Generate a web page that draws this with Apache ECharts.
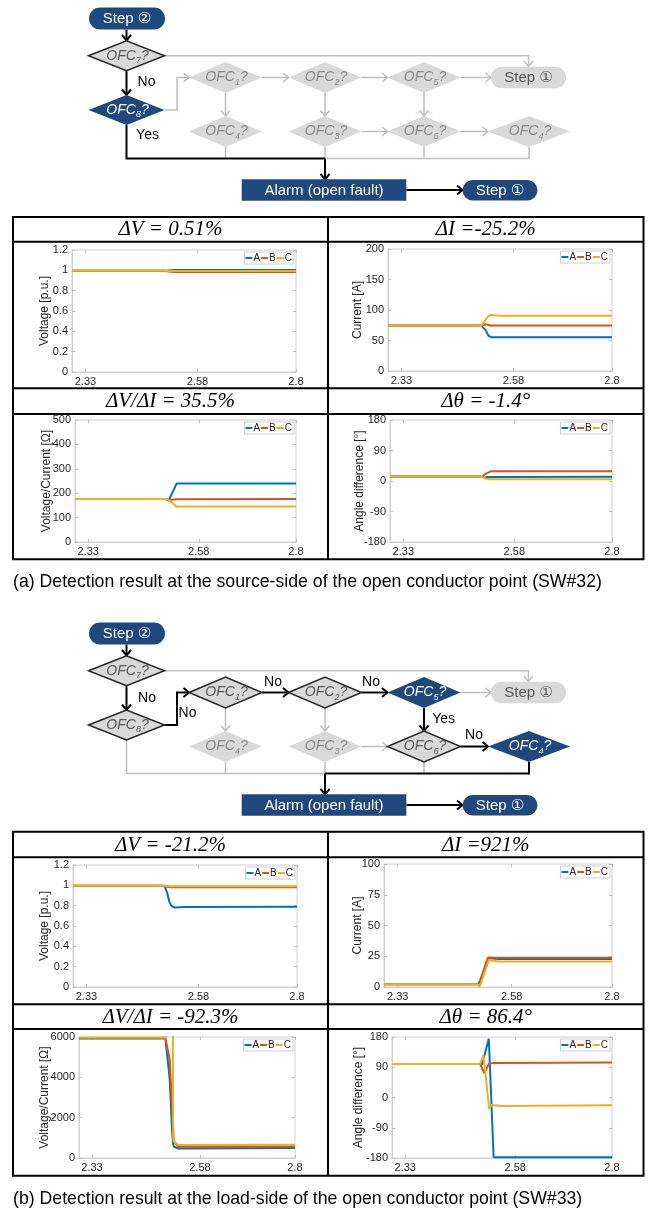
<!DOCTYPE html>
<html><head><meta charset="utf-8">
<script src="https://cdn.jsdelivr.net/npm/echarts@6/dist/echarts.min.js"></script>
<style>html,body{margin:0;padding:0;background:#fff}#c{width:651px;height:1210px}</style>
</head><body><div id="c"></div>
<script>
// ---------------- DATA ----------------
const xTicks = [2.33, 2.58, 2.8];
const phaseNames = ['A', 'B', 'C'];

// (a) source side (SW#32)
const srcV_A = [[2.3,0.995],[2.505,0.995],[2.512,0.997],[2.52,1.001],[2.53,1.003],[2.8,1.003]];
const srcV_B = [[2.3,0.995],[2.505,0.995],[2.512,0.992],[2.52,0.986],[2.53,0.984],[2.8,0.984]];
const srcV_C = [[2.3,0.995],[2.505,0.995],[2.515,0.994],[2.53,0.993],[2.8,0.993]];

const srcI_A = [[2.3,74],[2.508,74],[2.512,76],[2.518,67],[2.524,58],[2.53,55.5],[2.8,55.5]];
const srcI_B = [[2.3,74.5],[2.508,74.5],[2.512,77],[2.518,76.5],[2.524,75.5],[2.53,74.5],[2.8,74.5]];
const srcI_C = [[2.3,74],[2.508,74],[2.512,76],[2.518,84],[2.524,90],[2.53,92],[2.55,90.5],[2.8,90.5]];

const srcZ_A = [[2.3,176],[2.505,176],[2.512,170],[2.53,240],[2.8,240]];
const srcZ_B = [[2.3,176],[2.505,176],[2.512,172],[2.53,175],[2.8,176]];
const srcZ_C = [[2.3,176],[2.505,176],[2.512,172],[2.53,145],[2.8,145]];

const srcTh_A = [[2.3,13],[2.505,13],[2.512,10],[2.52,12],[2.8,12.5]];
const srcTh_B = [[2.3,13],[2.508,13],[2.514,20],[2.528,29],[2.8,29]];
const srcTh_C = [[2.3,13],[2.505,13],[2.515,7],[2.525,5.5],[2.8,5.5]];

// (b) load side (SW#33)
const loadV_A = [[2.3,0.995],[2.5,0.995],[2.505,0.985],[2.51,0.93],[2.515,0.84],[2.52,0.795],[2.527,0.782],[2.55,0.788],[2.8,0.79]];
const loadV_B = [[2.3,0.995],[2.5,0.995],[2.51,0.985],[2.52,0.98],[2.8,0.98]];
const loadV_C = [[2.3,0.995],[2.5,0.995],[2.52,0.991],[2.8,0.991]];

const loadI_A = [[2.3,2.2],[2.505,2.2],[2.51,4.5],[2.528,23.5],[2.55,22.8],[2.8,22.8]];
const loadI_B = [[2.3,2.2],[2.505,2.2],[2.51,2.5],[2.528,24],[2.55,23.7],[2.8,23.7]];
const loadI_C = [[2.3,2.2],[2.505,2.2],[2.51,0.4],[2.53,22],[2.55,20.8],[2.8,20.8]];

const loadZ_A = [[2.3,5930],[2.5,5930],[2.51,3900],[2.5155,1300],[2.518,680],[2.52,560],[2.53,470],[2.8,490]];
const loadZ_B = [[2.3,5955],[2.5,5955],[2.51,4876],[2.5195,830],[2.53,560],[2.8,575]];
const loadZ_C = [[2.3,5980],[2.5,5980],[2.51,20000],[2.5155,20000],[2.518,950],[2.52,800],[2.53,650],[2.8,660]];

const loadTh_A = [[2.3,100],[2.505,100],[2.52,175],[2.531,-178],[2.8,-178]];
const loadTh_B = [[2.3,100],[2.5,100],[2.51,72],[2.52,100],[2.53,103],[2.8,104]];
const loadTh_C = [[2.3,100],[2.5,100],[2.508,125],[2.521,-35],[2.526,-22],[2.55,-25],[2.8,-23]];

// y-axis ranges [min, max, interval] and names
const yRanges = [[0,1.2,0.2],[0,200,50],[0,500,100],[-180,180,90],[0,1.2,0.2],[0,100,25],[0,6000,2000],[-180,180,90]];
const yNames = ['Voltage [p.u.]','Current [A]','Voltage/Current [Ω]','Angle difference [°]',
                'Voltage [p.u.]','Current [A]','Voltage/Current [Ω]','Angle difference [°]'];
const panelTitles = ['ΔV = 0.51%','ΔI =-25.2%','ΔV/ΔI = 35.5%','Δθ = -1.4°',
                     'ΔV = -21.2%','ΔI =921%','ΔV/ΔI = -92.3%','Δθ = 86.4°'];
const captions = ['(a) Detection result at the source-side of the open conductor point (SW#32)',
                  '(b) Detection result at the load-side of the open conductor point (SW#33)'];
const panelData = [
  [srcV_A, srcV_B, srcV_C],[srcI_A, srcI_B, srcI_C],[srcZ_A, srcZ_B, srcZ_C],[srcTh_A, srcTh_B, srcTh_C],
  [loadV_A, loadV_B, loadV_C],[loadI_A, loadI_B, loadI_C],[loadZ_A, loadZ_B, loadZ_C],[loadTh_A, loadTh_B, loadTh_C]
];

// ---------------- LAYOUT / STYLE ----------------
const FF = "'Liberation Sans', Arial, 'DejaVu Sans', sans-serif";
const SERIF = "'Liberation Serif', 'Times New Roman', serif";
const COLORS = ['#0072bd', '#d95319', '#edb120'];
const NAVY = '#1f497d';
const FILL = '#d9d9d9';
const GRAYLN = '#bfbfbf';
const BLACK = '#000000';
const AX = '#d0d0d0';

const gridPos = [
  {left:72, top:250, width:224, height:122},
  {left:388, top:249, width:224, height:122},
  {left:75, top:420, width:221, height:122},
  {left:390, top:420, width:222, height:122},
  {left:73, top:865, width:224, height:122},
  {left:384, top:864, width:228, height:123},
  {left:79, top:1037, width:216, height:121},
  {left:392, top:1037, width:220, height:121}
];
const nameGaps = [21, 24, 22, 24, 22, 20, 28, 27];

const grid = [], xAxis = [], yAxis = [], series = [], legend = [];
gridPos.forEach((g, i) => {
  grid.push(Object.assign({show:true, borderColor:AX, borderWidth:1, backgroundColor:'#fff', containLabel:false, outerBoundsMode:'none'}, g));
  const tickStyle = {show:true, inside:true, length:3, lineStyle:{color:'#bdbdbd', width:1}};
  xAxis.push({type:'value', gridIndex:i, min:2.3, max:2.8, position:'bottom',
    axisLine:{show:true, onZero:false, lineStyle:{color:AX}},
    axisTick:Object.assign({customValues:xTicks}, tickStyle),
    axisLabel:{customValues:xTicks, fontSize:11, color:'#262626', margin:4, fontFamily:FF},
    splitLine:{show:false}});
  xAxis.push({type:'value', gridIndex:i, min:2.3, max:2.8, position:'top',
    axisLine:{show:false, onZero:false}, axisTick:Object.assign({customValues:xTicks}, tickStyle),
    axisLabel:{show:false}, splitLine:{show:false}});
  const r = yRanges[i];
  yAxis.push({type:'value', gridIndex:i, min:r[0], max:r[1], interval:r[2], position:'left',
    name:yNames[i], nameLocation:'middle', nameGap:nameGaps[i], nameMoveOverlap:false,
    nameTextStyle:{fontSize:12, color:'#262626', fontFamily:FF},
    axisLine:{show:true, onZero:false, lineStyle:{color:AX}}, axisTick:tickStyle,
    axisLabel:{fontSize:11, color:'#262626', margin:4, fontFamily:FF, formatter: v => String(+v.toFixed(4))},
    splitLine:{show:false}});
  yAxis.push({type:'value', gridIndex:i, min:r[0], max:r[1], interval:r[2], position:'right',
    axisLine:{show:false, onZero:false}, axisTick:tickStyle, axisLabel:{show:false}, splitLine:{show:false}});
  panelData[i].forEach((d, k) => {
    series.push({type:'line', name:phaseNames[k], xAxisIndex:2*i, yAxisIndex:2*i, data:d,
      showSymbol:false, symbol:'none', lineStyle:{width:2, color:COLORS[k]}, itemStyle:{color:COLORS[k]},
      clip:true, z:2+k, silent:true, animation:false});
  });
  legend.push({data:phaseNames, right:651-(g.left+g.width)+2, top:g.top+2, orient:'horizontal',
    icon:'rect', itemWidth:7, itemHeight:2, itemGap:1, padding:[1,2,1,1],
    borderColor:'#d0d0d0', borderWidth:1, backgroundColor:'#fff', selectedMode:false,
    textStyle:{fontSize:10, color:'#262626', fontFamily:FF, padding:[0,0,0,-4]}});
});

// ---------------- GRAPHIC (flowcharts, table, captions) ----------------
const els = [];
function pl(points, color, lw){ els.push({type:'polyline', shape:{points}, style:{stroke:color, lineWidth:lw, fill:'none'}, z:5, silent:true}); }
function head(x, y, dir, color, lw){
  const a = 4.5, b = 5.5; let p;
  if (dir === 'r') p = [[x-b,y-a],[x,y],[x-b,y+a]];
  else p = [[x-a,y-b],[x,y],[x+a,y-b]];
  pl(p, color, lw);
}
function arrow(points, color, lw, dir){ pl(points, color, lw); const e = points[points.length-1]; head(e[0], e[1], dir, color, lw); }
function txt(x, y, text, o){
  els.push({type:'text', x, y, z:20, silent:true,
    style:Object.assign({text, fill:'#000', fontSize:14, fontFamily:FF, align:'center', verticalAlign:'middle',
      textAlign:'center', textVerticalAlign:'middle'}, o || {})});
}
function box(x, y, w, h, r, fill, label, col, fs){
  els.push({type:'rect', shape:{x, y, width:w, height:h, r}, style:{fill}, z:8, silent:true});
  txt(x + w/2, y + h/2 + 0.5, label, {fill:col, fontSize:fs || 15});
}
function diamond(cx, cy, w, h, kind, num){
  const st = {fill: kind === 'navy' ? NAVY : FILL};
  if (kind === 'act') { st.stroke = '#262626'; st.lineWidth = 1.5; }
  els.push({type:'polygon', shape:{points:[[cx-w/2,cy],[cx,cy-h/2],[cx+w/2,cy],[cx,cy+h/2]]}, style:st, z:8, silent:true});
  const c = kind === 'navy' ? '#ffffff' : (kind === 'act' ? '#595959' : '#8a8a8a');
  els.push({type:'text', x:cx+1, y:cy, z:9, silent:true,
    style:{text:'{o|OFC}{s|' + num + '}{o|?}', align:'center', verticalAlign:'middle', textAlign:'center', textVerticalAlign:'middle',
      rich:{o:{fontSize:14, fontStyle:'italic', fontFamily:FF, fill:c, lineHeight:18},
            s:{fontSize:9, fontStyle:'italic', fontFamily:FF, fill:c, lineHeight:9, verticalAlign:'bottom'}}}});
}

function flow(dy, v){
  const Y = y => y + dy;
  const isB = v === 'b';
  const G = [GRAYLN, 1.5], K = [BLACK, 2];
  box(89, Y(7.5), 76, 22, 11, NAVY, 'Step ②', '#fff');
  arrow([[126.5,Y(29.5)],[126.5,Y(40.5)]], BLACK, 2, 'd');
  arrow([[164.5,Y(55.7)],[528.5,Y(55.7)],[528.5,Y(66.5)]], GRAYLN, 1.5, 'd');
  diamond(126.5, Y(55.7), 76, 30, 'act', 7);
  arrow([[126.5,Y(70.7)],[126.5,Y(95)]], BLACK, 2, 'd');
  [225.5, 325, 424].forEach(x => pl([[x,Y(147)],[x,Y(158.5)]], GRAYLN, 1.5));
  if (!isB) {
    pl([[529,Y(147)],[529,Y(158.5)],[325,Y(158.5)]], GRAYLN, 1.5);
    pl([[126.5,Y(125)],[126.5,Y(158.5)],[325,Y(158.5)]], BLACK, 2);
  } else {
    pl([[126.5,Y(125)],[126.5,Y(158.5)],[325,Y(158.5)]], GRAYLN, 1.5);
    pl([[529,Y(147)],[529,Y(158.5)],[325,Y(158.5)]], BLACK, 2);
  }
  arrow([[325,Y(158.5)],[325,Y(179.3)]], BLACK, 2, 'd');
  diamond(126.5, Y(110), 76, 30, isB ? 'act' : 'navy', 8);
  const s81 = isB ? K : G;
  arrow([[164.5,Y(110)],[177,Y(110)],[177,Y(77.5)],[189,Y(77.5)]], s81[0], s81[1], 'r');
  const s12 = isB ? K : G, s25 = isB ? K : G, s56 = isB ? K : G, s64 = isB ? K : G;
  arrow([[262,Y(77.5)],[288.5,Y(77.5)]], s12[0], s12[1], 'r');
  arrow([[361.5,Y(77.5)],[387.5,Y(77.5)]], s25[0], s25[1], 'r');
  arrow([[460.5,Y(77.5)],[491,Y(77.5)]], GRAYLN, 1.5, 'r');
  arrow([[225.5,Y(93)],[225.5,Y(116)]], GRAYLN, 1.5, 'd');
  arrow([[325,Y(93)],[325,Y(116)]], GRAYLN, 1.5, 'd');
  arrow([[424,Y(93)],[424,Y(116)]], s56[0], s56[1], 'd');
  arrow([[361.5,Y(131.5)],[387.5,Y(131.5)]], GRAYLN, 1.5, 'r');
  arrow([[460.5,Y(131.5)],[488,Y(131.5)]], s64[0], s64[1], 'r');
  diamond(225.5, Y(77.5), 73, 31, isB ? 'act' : 'in', 1);
  diamond(325, Y(77.5), 73, 31, isB ? 'act' : 'in', 2);
  diamond(424, Y(77.5), 73, 31, isB ? 'navy' : 'in', 5);
  box(491, Y(66.7), 75, 21.6, 10.8, FILL, 'Step ①', '#595959');
  diamond(225.5, Y(131.5), 73, 31, 'in', 4);
  diamond(325, Y(131.5), 73, 31, 'in', 3);
  diamond(424, Y(131.5), 73, 31, isB ? 'act' : 'in', 6);
  diamond(529, Y(131.5), 82, 31, isB ? 'navy' : 'in', 4);
  box(241.7, Y(179.3), 164.6, 21.4, 0, NAVY, 'Alarm (open fault)', '#fff');
  arrow([[406.3,Y(190)],[462.5,Y(190)]], BLACK, 2, 'r');
  box(462.5, Y(180), 75, 20.5, 10.25, NAVY, 'Step ①', '#fff');
  if (!isB) {
    txt(146.5, Y(82), 'No');
    txt(147.5, Y(135), 'Yes');
  } else {
    txt(147, Y(83.5), 'No');
    txt(187.5, Y(98), 'No');
    txt(273, Y(66.7), 'No');
    txt(371, Y(66.7), 'No');
    txt(443.7, Y(104.5), 'Yes');
    txt(474, Y(120), 'No');
  }
}
flow(0, 'a');
flow(615, 'b');

function table(t, h1, mid, h2, bot, titles, capY, cap){
  const L = 13, R = 643.5, M = 328;
  els.push({type:'rect', shape:{x:L, y:t, width:R-L, height:bot-t}, style:{fill:'none', stroke:BLACK, lineWidth:2}, z:30, silent:true});
  [h1, mid, h2].forEach(y => pl([[L,y],[R,y]], BLACK, 2));
  pl([[M,t],[M,bot]], BLACK, 2);
  const tf = {fontSize:21, fontFamily:SERIF, fontStyle:'italic', fill:'#000'};
  txt((L+M)/2, (t+h1)/2 + 0.5, titles[0], tf);
  txt((M+R)/2, (t+h1)/2 + 0.5, titles[1], tf);
  txt((L+M)/2, (mid+h2)/2 + 0.5, titles[2], tf);
  txt((M+R)/2, (mid+h2)/2 + 0.5, titles[3], tf);
  txt(13, capY, cap, {align:'left', textAlign:'left', fontSize:17.7, fontFamily:FF, fill:'#000'});
}
table(217, 241.7, 388.3, 414, 559.3, panelTitles.slice(0,4), 582, captions[0]);
table(831.7, 857.3, 1004.3, 1029, 1175.7, panelTitles.slice(4,8), 1199, captions[1]);

const chart = echarts.init(document.getElementById('c'), null, {renderer:'canvas'});
chart.setOption({
  animation:false,
  backgroundColor:'#ffffff',
  grid, xAxis, yAxis, series, legend,
  graphic:{elements:els}
});
</script></body></html>
